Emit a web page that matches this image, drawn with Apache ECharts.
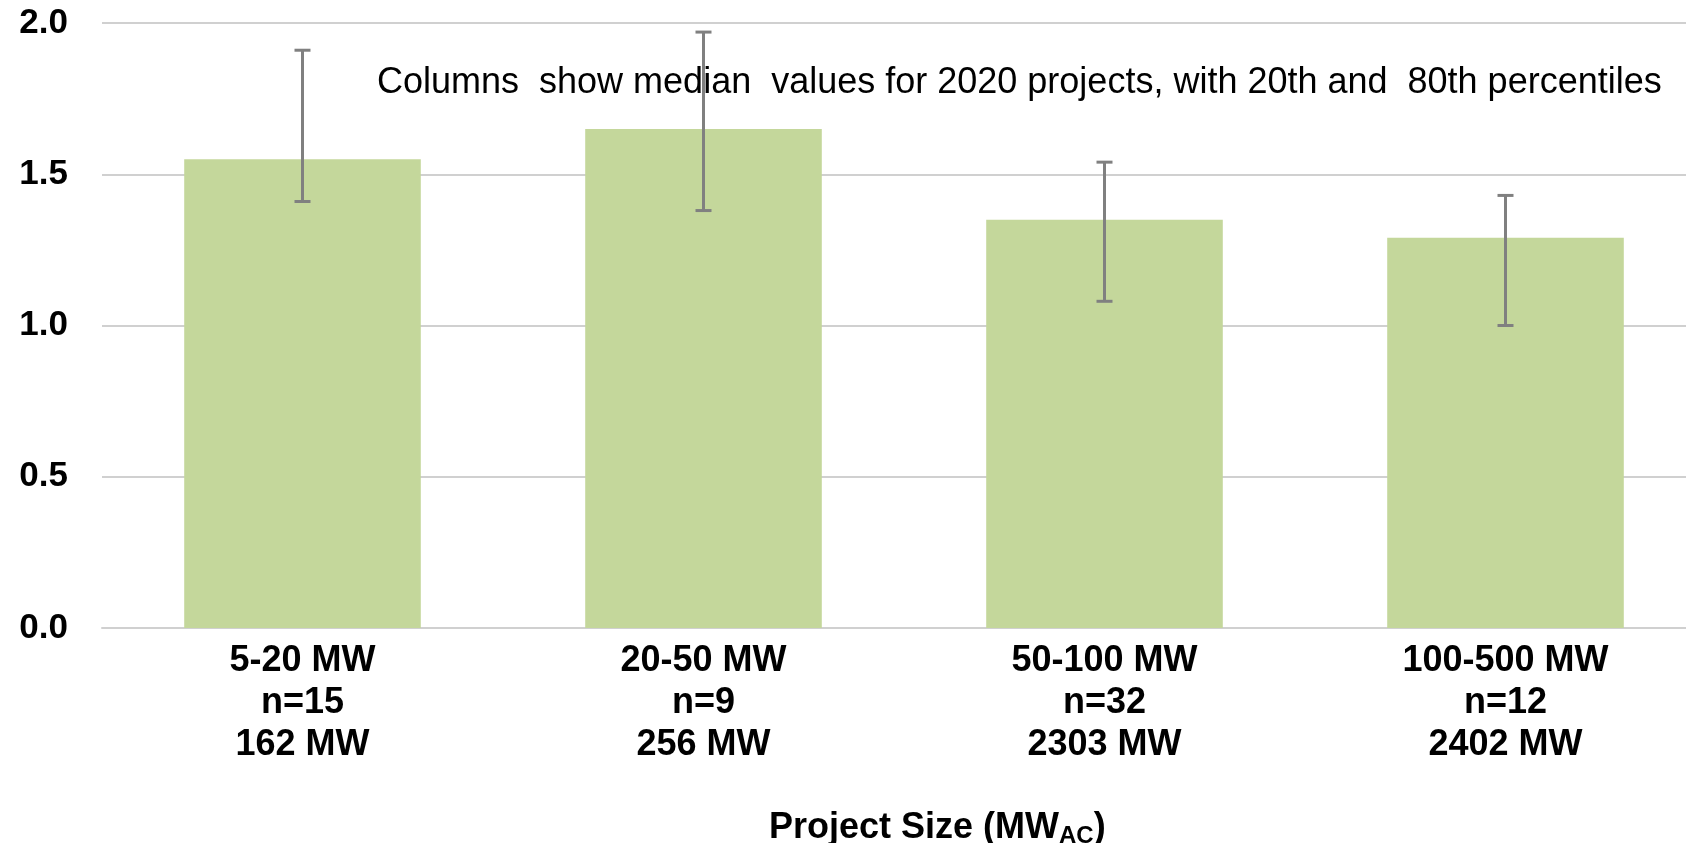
<!DOCTYPE html>
<html>
<head>
<meta charset="utf-8">
<title>Project size medians</title>
<script src="https://cdn.jsdelivr.net/npm/echarts@6/dist/echarts.min.js"></script>
<style>
	html, body { margin: 0; padding: 0; background: #fff; }
	#chart { width: 1686px; height: 843px; }
</style>
</head>
<body>
<div id="chart"></div>
<script>
// categories: size bin, project count, total capacity
const sizeBins = ['5-20 MW', '20-50 MW', '50-100 MW', '100-500 MW'];
const projectCounts = ['n=15', 'n=9', 'n=32', 'n=12'];
const capacities = ['162 MW', '256 MW', '2303 MW', '2402 MW'];

// medians and the 20th / 80th percentile whiskers
const medians = [1.55, 1.65, 1.35, 1.29];
const p20 = [1.41, 1.38, 1.08, 1.00];
const p80 = [1.91, 1.97, 1.54, 1.43];

const yTicks = [0, 0.5, 1.0, 1.5, 2.0];

const font = "'Liberation Sans', Arial, sans-serif";

const categories = sizeBins.map((b, i) => b + '\n' + projectCounts[i] + '\n' + capacities[i]);
const whiskers = medians.map((m, i) => [i, p20[i], p80[i]]);

const chart = echarts.init(document.getElementById('chart'));

const option = {
	animation: false,
	backgroundColor: '#fff',
	title: [
		{
			text: 'Columns  show median  values for 2020 projects, with 20th and  80th percentiles',
			left: 372,
			top: 60,
			textStyle: {
				fontFamily: font,
				fontSize: 36,
				fontWeight: 'normal',
				color: '#000'
			}
		},
		{
			text: '{a|Project Size (MW}{s|AC}{a|)}',
			left: 764,
			top: 803,
			textStyle: {
				rich: {
					a: { fontFamily: font, fontSize: 36, fontWeight: 'bold', color: '#000', lineHeight: 40 },
					s: { fontFamily: font, fontSize: 24, fontWeight: 'bold', color: '#000', lineHeight: 40, verticalAlign: 'bottom', padding: [14, 0, 0, 0] }
				}
			}
		}
	],
	// the plot runs past the right edge of the picture
	grid: {
		left: 102,
		width: 1604,
		top: 23,
		bottom: 215,
		outerBoundsMode: 'none'
	},
	xAxis: {
		type: 'category',
		data: categories,
		axisTick: { show: false },
		axisLine: { lineStyle: { color: '#d0d0d0', width: 2 } },
		axisLabel: {
			margin: 12,
			fontFamily: font,
			fontSize: 36,
			fontWeight: 'bold',
			color: '#000',
			lineHeight: 42
		}
	},
	yAxis: {
		type: 'value',
		min: yTicks[0],
		max: yTicks[yTicks.length - 1],
		interval: 0.5,
		axisLine: { show: false },
		axisTick: { show: false },
		splitLine: { lineStyle: { color: '#d0d0d0', width: 2 } },
		axisLabel: {
			margin: 34,
			fontFamily: font,
			fontSize: 35,
			fontWeight: 'bold',
			color: '#000',
			formatter: function (val) {
				return val.toFixed(1);
			}
		}
	},
	series: [
		{
			type: 'bar',
			data: medians,
			barCategoryGap: '41%',
			itemStyle: { color: '#c4d79b' }
		},
		{
			type: 'custom',
			data: whiskers,
			encode: { x: 0, y: [1, 2] },
			z: 5,
			renderItem: function (params, api) {
				const lo = api.coord([api.value(0), api.value(1)]);
				const hi = api.coord([api.value(0), api.value(2)]);
				const cap = 8;
				const style = { stroke: '#808080', lineWidth: 3 };
				return {
					type: 'group',
					children: [
						{ type: 'line', shape: { x1: lo[0], y1: lo[1], x2: hi[0], y2: hi[1] }, style: style },
						{ type: 'line', shape: { x1: hi[0] - cap, y1: hi[1], x2: hi[0] + cap, y2: hi[1] }, style: style },
						{ type: 'line', shape: { x1: lo[0] - cap, y1: lo[1], x2: lo[0] + cap, y2: lo[1] }, style: style }
					]
				};
			}
		}
	]
};

chart.setOption(option);
</script>
</body>
</html>
